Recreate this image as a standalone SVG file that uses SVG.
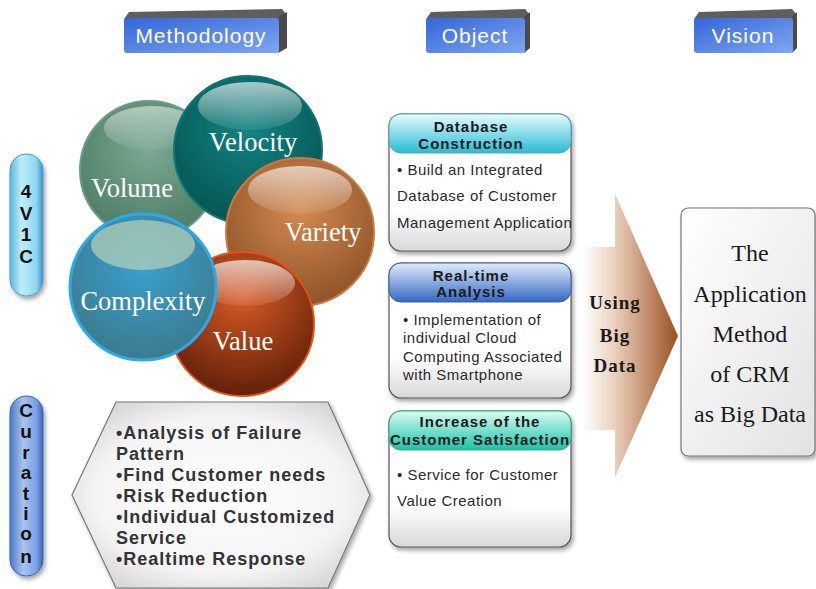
<svg xmlns="http://www.w3.org/2000/svg" width="816" height="589" viewBox="0 0 816 589">
<defs>
  <linearGradient id="btn" x1="0" y1="0" x2="1" y2="1">
    <stop offset="0" stop-color="#3566d8"/><stop offset="1" stop-color="#7ea6f2"/>
  </linearGradient>
  <linearGradient id="pillA" x1="0" y1="0" x2="1" y2="0">
    <stop offset="0" stop-color="#5cb8dc"/><stop offset="0.35" stop-color="#bdeefa"/><stop offset="0.8" stop-color="#8fd6ef"/><stop offset="1" stop-color="#3a8fc8"/>
  </linearGradient>
  <linearGradient id="pillB" x1="0" y1="0" x2="1" y2="0">
    <stop offset="0" stop-color="#4a78c8"/><stop offset="0.4" stop-color="#a8c4ee"/><stop offset="0.8" stop-color="#7aa0e0"/><stop offset="1" stop-color="#3a64b8"/>
  </linearGradient>
  <radialGradient id="volG" cx="0.5" cy="0.35" r="0.7">
    <stop offset="0" stop-color="#7aa892"/><stop offset="1" stop-color="#4a7a62"/>
  </radialGradient>
  <radialGradient id="velG" cx="0.5" cy="0.35" r="0.7">
    <stop offset="0" stop-color="#138482"/><stop offset="1" stop-color="#04524f"/>
  </radialGradient>
  <radialGradient id="varG" cx="0.5" cy="0.35" r="0.7">
    <stop offset="0" stop-color="#d48a52"/><stop offset="1" stop-color="#8a4f24"/>
  </radialGradient>
  <radialGradient id="valG" cx="0.5" cy="0.3" r="0.75">
    <stop offset="0" stop-color="#d85a24"/><stop offset="1" stop-color="#5a1c08"/>
  </radialGradient>
  <radialGradient id="comG" cx="0.5" cy="0.35" r="0.7">
    <stop offset="0" stop-color="#3aa0d0"/><stop offset="1" stop-color="#3c7888"/>
  </radialGradient>
  <linearGradient id="shine" x1="0" y1="0" x2="0" y2="1">
    <stop offset="0" stop-color="#ffffff" stop-opacity="0.85"/><stop offset="1" stop-color="#ffffff" stop-opacity="0.1"/>
  </linearGradient>
  <linearGradient id="h1" x1="0" y1="0" x2="0" y2="1">
    <stop offset="0" stop-color="#e8fbfd"/><stop offset="1" stop-color="#27bcd4"/>
  </linearGradient>
  <linearGradient id="h2" x1="0" y1="0" x2="0" y2="1">
    <stop offset="0" stop-color="#e0ecfa"/><stop offset="1" stop-color="#3468c4"/>
  </linearGradient>
  <linearGradient id="h3" x1="0" y1="0" x2="0" y2="1">
    <stop offset="0" stop-color="#dafcf2"/><stop offset="1" stop-color="#16c4a8"/>
  </linearGradient>
  <linearGradient id="body" x1="0" y1="0" x2="0" y2="1">
    <stop offset="0" stop-color="#ffffff"/><stop offset="0.7" stop-color="#ffffff"/><stop offset="1" stop-color="#d8d8d8"/>
  </linearGradient>
  <linearGradient id="arrowG" x1="0" y1="0" x2="1" y2="0">
    <stop offset="0" stop-color="#ffffff"/><stop offset="0.35" stop-color="#e8cdb8"/><stop offset="1" stop-color="#9a5020"/>
  </linearGradient>
  <linearGradient id="visG" x1="0" y1="0" x2="1" y2="1">
    <stop offset="0" stop-color="#ffffff"/><stop offset="1" stop-color="#e2e2e2"/>
  </linearGradient>
  <radialGradient id="hexG" cx="0.5" cy="0.5" r="0.6">
    <stop offset="0" stop-color="#ffffff"/><stop offset="0.7" stop-color="#f4f4f4"/><stop offset="1" stop-color="#d6d6d6"/>
  </radialGradient>
  <filter id="sh" x="-10%" y="-10%" width="130%" height="130%">
    <feDropShadow dx="2" dy="3" stdDeviation="2" flood-color="#000" flood-opacity="0.35"/>
  </filter>
</defs>
<style>
  .hdr{font-family:"Liberation Sans",Arial,sans-serif;font-size:21px;fill:#ffffff;text-anchor:middle;letter-spacing:1px}
  .side{fill:#4a4a4a}
  .top{fill:#5e5e5e}
  .pl{font-family:"Liberation Sans",Arial,sans-serif;font-weight:bold;font-size:19px;fill:#111;text-anchor:middle}
  .sp{font-family:"Liberation Serif","Times New Roman",serif;font-size:26.5px;fill:#ffffff;text-anchor:middle}
  .bt{font-family:"Liberation Sans",Arial,sans-serif;font-weight:bold;font-size:15px;fill:#1a1a1a;text-anchor:middle;letter-spacing:1px}
  .bd{font-family:"Liberation Sans",Arial,sans-serif;font-size:15px;fill:#2a2a2a;letter-spacing:0.5px}
  .hx{font-family:"Liberation Sans",Arial,sans-serif;font-weight:bold;font-size:18px;fill:#333333;letter-spacing:1px}
  .ar{font-family:"Liberation Serif","Times New Roman",serif;font-weight:bold;font-size:19px;fill:#1a1a1a;text-anchor:middle;letter-spacing:1px}
  .vs{font-family:"Liberation Serif","Times New Roman",serif;font-size:24px;fill:#1a1a1a;text-anchor:middle}
</style>

<g id="hdr-methodology">
  <polygon class="top" points="129,12 282,9 287,15 278,19 124,19"/>
  <polygon class="side" points="278,17 287,12 287,48 278,53"/>
  <rect x="124" y="18" width="155" height="35" rx="3" fill="url(#btn)"/>
  <text class="hdr" x="201" y="43">Methodology</text>
</g>
<g id="hdr-object">
  <polygon class="top" points="431,12 525,9 530,15 524,19 426,19"/>
  <polygon class="side" points="524,17 530,12 530,48 524,53"/>
  <rect x="426" y="18" width="99" height="35" rx="3" fill="url(#btn)"/>
  <text class="hdr" x="475" y="43">Object</text>
</g>
<g id="hdr-vision">
  <polygon class="top" points="699,12 792,9 797,15 792,19 694,19"/>
  <polygon class="side" points="792,17 797,12 797,48 792,53"/>
  <rect x="694" y="18" width="99" height="35" rx="3" fill="url(#btn)"/>
  <text class="hdr" x="743" y="43">Vision</text>
</g>

<g id="pill-4v1c">
  <rect x="10" y="154" width="33" height="142" rx="16" fill="url(#pillA)" stroke="#4a9ad0" stroke-width="1" filter="url(#sh)"/>
  <text class="pl" x="26" y="198">4</text>
  <text class="pl" x="26" y="220">V</text>
  <text class="pl" x="26" y="241">1</text>
  <text class="pl" x="26" y="263">C</text>
</g>
<g id="pill-curation">
  <rect x="10" y="396" width="33" height="180" rx="16" fill="url(#pillB)" stroke="#3a64b8" stroke-width="1" filter="url(#sh)"/>
  <text class="pl" x="26" y="417">C</text>
  <text class="pl" x="26" y="438">u</text>
  <text class="pl" x="26" y="459">r</text>
  <text class="pl" x="26" y="479">a</text>
  <text class="pl" x="26" y="500">t</text>
  <text class="pl" x="26" y="520">i</text>
  <text class="pl" x="26" y="540">o</text>
  <text class="pl" x="26" y="563">n</text>
</g>

<g id="sphere-volume">
  <circle cx="149" cy="170" r="69" fill="url(#volG)" stroke="#6f9a86" stroke-width="2"/>
  <ellipse cx="152" cy="128" rx="48" ry="22" fill="url(#shine)" opacity="0.6"/>
  <text class="sp" x="132" y="197">Volume</text>
</g>
<g id="sphere-velocity">
  <circle cx="248" cy="150" r="74" fill="url(#velG)" stroke="#0d7674" stroke-width="2"/>
  <ellipse cx="250" cy="106" rx="52" ry="24" fill="url(#shine)" opacity="0.75"/>
  <text class="sp" x="253" y="151">Velocity</text>
</g>
<g id="sphere-variety">
  <circle cx="300" cy="232" r="74" fill="url(#varG)" stroke="#c77a42" stroke-width="2"/>
  <ellipse cx="300" cy="190" rx="52" ry="24" fill="url(#shine)" opacity="0.75"/>
  <text class="sp" x="323" y="241">Variety</text>
</g>
<g id="sphere-value">
  <circle cx="242" cy="324" r="72" fill="url(#valG)" stroke="#e0531a" stroke-width="2"/>
  <ellipse cx="245" cy="283" rx="50" ry="23" fill="url(#shine)" opacity="0.8"/>
  <text class="sp" x="243" y="350">Value</text>
</g>
<g id="sphere-complexity">
  <circle cx="143" cy="287" r="73" fill="url(#comG)" stroke="#2ea8e6" stroke-width="3"/>
  <ellipse cx="143" cy="245" rx="52" ry="25" fill="#b8d2b8" opacity="0.7"/>
  <text class="sp" x="143" y="310">Complexity</text>
</g>

<g id="box-database">
  <rect x="389" y="114" width="182" height="137" rx="12" fill="url(#body)" stroke="#555" stroke-width="1.2" filter="url(#sh)"/>
  <rect x="389" y="114" width="182" height="39" rx="12" fill="url(#h1)" stroke="#5aa8b8" stroke-width="1"/>
  <text class="bt" x="471" y="132">Database</text>
  <text class="bt" x="471" y="149">Construction</text>
  <text class="bd" x="397" y="175">• Build an Integrated</text>
  <text class="bd" x="397" y="201">Database of Customer</text>
  <text class="bd" x="397" y="228">Management Application</text>
</g>
<g id="box-realtime">
  <rect x="389" y="263" width="182" height="135" rx="12" fill="url(#body)" stroke="#555" stroke-width="1.2" filter="url(#sh)"/>
  <rect x="389" y="263" width="182" height="39" rx="12" fill="url(#h2)" stroke="#3a5ea8" stroke-width="1"/>
  <text class="bt" x="471" y="281">Real-time</text>
  <text class="bt" x="471" y="297">Analysis</text>
  <text class="bd" x="403" y="325">• Implementation of</text>
  <text class="bd" x="403" y="343">individual Cloud</text>
  <text class="bd" x="403" y="362">Computing Associated</text>
  <text class="bd" x="403" y="380">with Smartphone</text>
</g>
<g id="box-increase">
  <rect x="389" y="411" width="182" height="136" rx="12" fill="url(#body)" stroke="#555" stroke-width="1.2" filter="url(#sh)"/>
  <rect x="389" y="411" width="182" height="39" rx="12" fill="url(#h3)" stroke="#3aa890" stroke-width="1"/>
  <text class="bt" x="480" y="427">Increase of the</text>
  <text class="bt" x="480" y="445">Customer Satisfaction</text>
  <text class="bd" x="397" y="480">• Service for Customer</text>
  <text class="bd" x="397" y="506">Value Creation</text>
</g>

<g id="hexagon-curation">
  <polygon points="72,495 116,402 328,402 370,495 328,588 116,588" fill="url(#hexG)" stroke="#777" stroke-width="1.2" filter="url(#sh)"/>
  <text class="hx" x="116" y="439">•Analysis of Failure</text>
  <text class="hx" x="116" y="460">Pattern</text>
  <text class="hx" x="116" y="481">•Find Customer needs</text>
  <text class="hx" x="116" y="502">•Risk Reduction</text>
  <text class="hx" x="116" y="523">•Individual Customized</text>
  <text class="hx" x="116" y="544">Service</text>
  <text class="hx" x="116" y="565">•Realtime Response</text>
</g>

<g id="connectors">
  <polygon points="583,247 615,247 615,194 678,336 615,477 615,430 583,430" fill="url(#arrowG)"/>
  <text class="ar" x="615" y="309">Using</text>
  <text class="ar" x="615" y="342">Big</text>
  <text class="ar" x="615" y="372">Data</text>
</g>

<g id="vision-box">
  <rect x="681" y="208" width="134" height="248" rx="7" fill="url(#visG)" stroke="#777" stroke-width="1.2" filter="url(#sh)"/>
  <text class="vs" x="750" y="261">The</text>
  <text class="vs" x="750" y="302">Application</text>
  <text class="vs" x="750" y="342">Method</text>
  <text class="vs" x="750" y="382">of CRM</text>
  <text class="vs" x="750" y="422">as Big Data</text>
</g>
</svg>
